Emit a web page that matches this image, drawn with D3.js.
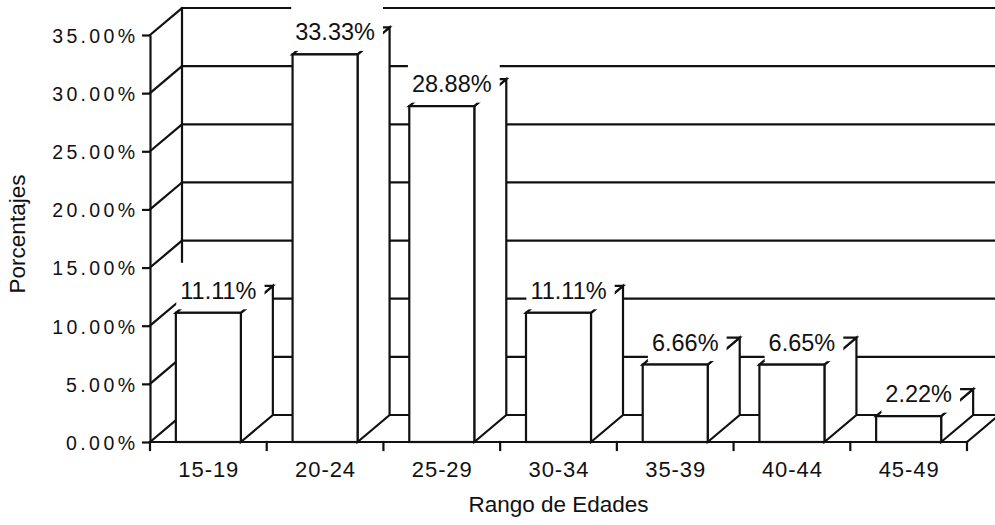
<!DOCTYPE html>
<html>
<head>
<meta charset="utf-8">
<script src="https://cdn.jsdelivr.net/npm/d3@7"></script>
<style>
  html, body { margin: 0; padding: 0; background: #fff; }
  svg { display: block; font-family: "Liberation Sans", Arial, Helvetica, sans-serif; }
</style>
</head>
<body>
<svg id="chart" width="995" height="525"></svg>
<script>
// Age ranges and share of each range (percent)
const categories = ["15-19", "20-24", "25-29", "30-34", "35-39", "40-44", "45-49"];
const percentages = [11.11, 33.33, 28.88, 11.11, 6.66, 6.65, 2.22];
const yTicks = [0, 5, 10, 15, 20, 25, 30, 35];
const yTitle = "Porcentajes";
const xTitle = "Rango de Edades";

const W = 995, H = 525;
const plotLeft = 150, plotRight = 967, plotBase = 442, plotTop = 35;
const depthX = 32, depthY = 27;   // offset of the back wall (3D depth)
const ink = "#111";
const sw = 2.2;
const FONT = "'Liberation Sans', Arial, Helvetica, sans-serif";

const svg = d3.select("#chart");

const x = d3.scaleBand()
  .domain(categories)
  .range([plotLeft, plotRight])
  .paddingInner(0.443)
  .paddingOuter(0.2215);

const y = d3.scaleLinear().domain([0, 35]).range([plotBase, plotTop]);

const line = (g, x1, y1, x2, y2) =>
  g.append("line").attr("x1", x1).attr("y1", y1).attr("x2", x2).attr("y2", y2)
   .attr("stroke", ink).attr("stroke-width", sw).attr("stroke-linecap", "square");

// ---- back wall, side wall and floor ----
const frame = svg.append("g");
yTicks.forEach(v => {
  line(frame, plotLeft + depthX, y(v) - depthY, W + 10, y(v) - depthY);   // back wall grid
  line(frame, plotLeft, y(v), plotLeft + depthX, y(v) - depthY);          // side wall diagonal
});
line(frame, plotLeft + depthX, y(35) - depthY, plotLeft + depthX, y(0) - depthY);
line(frame, plotLeft, plotBase, plotRight, plotBase);                           // front floor edge
line(frame, plotRight, plotBase, plotRight + depthX, plotBase - depthY);        // right floor edge

// category separators below the floor
d3.range(categories.length + 1).forEach(i => {
  const xx = plotLeft + i * x.step();
  line(frame, xx, plotBase, xx, plotBase + 8);
});

// ---- y axis ----
const yAxis = svg.append("g")
  .attr("transform", `translate(${plotLeft},0)`)
  .call(d3.axisLeft(y).tickValues(yTicks).tickSize(8).tickSizeOuter(0).tickPadding(7)
    .tickFormat(d => d.toFixed(2) + "%"));
yAxis.select(".domain").attr("stroke", ink).attr("stroke-width", sw);
yAxis.selectAll(".tick line").attr("stroke", ink).attr("stroke-width", sw);
yAxis.selectAll(".tick text")
  .attr("fill", ink)
  .attr("dy", "0.38em")
  .style("font-size", "19.5px")
  .style("font-family", FONT)
  .attr("lengthAdjust", "spacing")
  .attr("textLength", function () { return this.textContent.length * 13.8; });

// ---- x axis labels ----
const xAxis = svg.append("g")
  .attr("transform", `translate(0,${plotBase})`)
  .call(d3.axisBottom(x).tickSize(0).tickPadding(19));
xAxis.select(".domain").remove();
xAxis.selectAll(".tick text")
  .attr("fill", ink)
  .style("font-size", "22px")
  .style("font-family", FONT)
  .attr("lengthAdjust", "spacing")
  .attr("textLength", 60);

// ---- 3D bars: side face, top face, front face ----
const bars = svg.append("g");
categories.forEach((c, i) => {
  const v = percentages[i];
  const x0 = x(c), x1 = x(c) + x.bandwidth();
  const yt = y(v), yb = y(0);
  const g = bars.append("g");
  g.append("polygon")
    .attr("points", [[x1, yb], [x1, yt], [x1 + depthX, yt - depthY], [x1 + depthX, yb - depthY]].join(" "))
    .attr("fill", "#fff").attr("stroke", ink).attr("stroke-width", sw).attr("stroke-linejoin", "miter");
  g.append("polygon")
    .attr("points", [[x0, yt], [x1, yt], [x1 + depthX, yt - depthY], [x0 + depthX, yt - depthY]].join(" "))
    .attr("fill", "#fff").attr("stroke", ink).attr("stroke-width", sw);
  g.append("rect")
    .attr("x", x0).attr("y", yt).attr("width", x1 - x0).attr("height", yb - yt)
    .attr("fill", "#fff").attr("stroke", ink).attr("stroke-width", sw);
});

// ---- value labels with white backing ----
const labels = svg.append("g");
categories.forEach((c, i) => {
  const v = percentages[i];
  const cx = x(c) + x.bandwidth() / 2 + 10;
  const base = y(v) - 14;
  const g = labels.append("g");
  const t = g.append("text")
    .attr("x", cx).attr("y", base)
    .attr("text-anchor", "middle")
    .attr("fill", ink)
    .style("font-size", "23.5px")
    .style("font-family", FONT)
    .text(v.toFixed(2) + "%");
  const bb = t.node().getBBox();
  g.insert("rect", "text")
    .attr("x", bb.x - 4).attr("y", base - 36)
    .attr("width", bb.width + 12).attr("height", 36 + 10.5)
    .attr("fill", "#fff");
});

// ---- titles ----
svg.append("text")
  .attr("x", (plotLeft + plotRight) / 2).attr("y", 512)
  .attr("text-anchor", "middle").attr("fill", ink)
  .style("font-size", "22.5px")
  .style("font-family", FONT)
  .text(xTitle);

svg.append("text")
  .attr("transform", "translate(25,234) rotate(-90)")
  .attr("text-anchor", "middle").attr("fill", ink)
  .style("font-size", "22.5px")
  .style("font-family", FONT)
  .text(yTitle);
</script>
</body>
</html>
